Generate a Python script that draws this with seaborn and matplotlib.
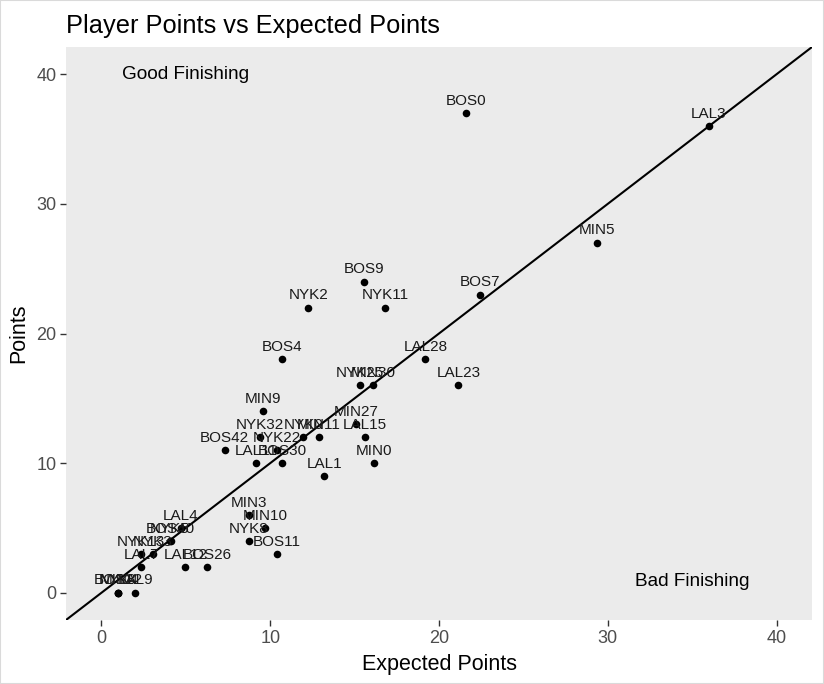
import matplotlib
matplotlib.use("Agg")
import matplotlib.pyplot as plt
import seaborn as sns
import pandas as pd

players = ["BOS0", "LAL3", "MIN5", "BOS9", "NYK2", "NYK11", "BOS7", "BOS4",
           "LAL28", "NYK25", "MIN30", "LAL23", "MIN9", "MIN27", "NYK32", "NYK0",
           "MIN11", "LAL15", "BOS42", "NYK22", "LAL11", "BOS30", "MIN0", "LAL1",
           "MIN3", "MIN10", "NYK8", "BOS11", "LAL4", "BOS40", "NYK5", "NYK13",
           "NYK3", "LAL7", "LAL12", "BOS26", "BOS12", "NYK4", "MIN8", "LAL9"]
expected_points = [21.6, 36.0, 29.35, 15.55, 12.25, 16.8, 22.4, 10.7,
                   19.2, 15.3, 16.1, 21.15, 9.55, 15.1, 9.4, 11.95,
                   12.9, 15.6, 7.3, 10.4, 9.15, 10.7, 16.15, 13.2,
                   8.75, 9.7, 8.72, 10.4, 4.7, 4.1, 4.05, 2.35,
                   3.05, 2.35, 4.97, 6.25, 1.0, 1.0, 1.0, 2.0]
points = [37, 36, 27, 24, 22, 22, 23, 18,
          18, 16, 16, 16, 14, 13, 12, 12,
          12, 12, 11, 11, 10, 10, 10, 9,
          6, 5, 4, 3, 5, 4, 4, 3,
          3, 2, 2, 2, 0, 0, 0, 0]

df = pd.DataFrame({"player": players, "xpts": expected_points, "pts": points})

sns.set_theme(style="darkgrid")
plt.rcParams["font.family"] = ["Liberation Sans", "DejaVu Sans"]

fig = plt.figure(figsize=(8.24, 6.84), dpi=100)
ax = fig.add_axes([66 / 824, 1 - 620 / 684, (812 - 66) / 824, (620 - 47) / 684])
ax.set_facecolor("#EBEBEB")
ax.grid(False)
for s in ax.spines.values():
    s.set_visible(False)

ax.axline((0, 0), slope=1, color="black", linewidth=1.5, zorder=2)
sns.scatterplot(data=df, x="xpts", y="pts", color="black", s=30,
                edgecolor="black", linewidth=0, ax=ax, zorder=3)
for _, r in df.iterrows():
    ax.text(r["xpts"], r["pts"] + 0.95, r["player"], ha="center", va="center",
            fontsize=11, color="#1A1A1A", zorder=4)

ax.text(5, 40, "Good Finishing", ha="center", va="center", fontsize=13.7, color="black")
ax.text(35, 0.85, "Bad Finishing", ha="center", va="center", fontsize=13.7, color="black")

ax.set_xlim(-2.1, 42.1)
ax.set_ylim(-2.1, 42.1)
ax.set_xticks([0, 10, 20, 30, 40])
ax.set_yticks([0, 10, 20, 30, 40])
ax.tick_params(axis="both", which="both", length=4, width=1, color="#333333",
               labelcolor="#4D4D4D", labelsize=13, pad=3,
               bottom=True, left=True)
ax.set_xlabel("Expected Points", fontsize=15.5, color="black", labelpad=5)
ax.set_ylabel("Points", fontsize=15.5, color="black", labelpad=5)
fig.text(66 / 824, 1 - 26 / 684, "Player Points vs Expected Points", ha="left",
         va="center", fontsize=18.3, color="black")

border = plt.Rectangle((0, 0), 1, 1, transform=fig.transFigure, fill=False,
                       edgecolor="#DADADA", linewidth=1.5)
fig.patches.append(border)

fig.savefig("out.png", dpi=100, facecolor="white")
